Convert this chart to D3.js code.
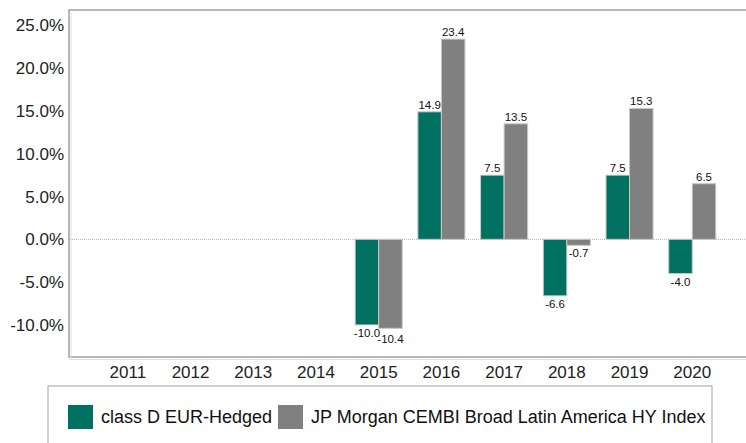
<!DOCTYPE html>
<html>
<head>
<meta charset="utf-8">
<script src="https://cdn.jsdelivr.net/npm/d3@7"></script>
<style>
  html, body { margin: 0; padding: 0; background: #fff; }
  svg { display: block; font-family: "Liberation Sans", Arial, sans-serif; }
</style>
</head>
<body>
<svg id="chart" width="746" height="443"></svg>
<script>
const years = ["2011","2012","2013","2014","2015","2016","2017","2018","2019","2020"];
const fundValues = [null, null, null, null, -10.0, 14.9, 7.5, -6.6, 7.5, -4.0];
const indexValues = [null, null, null, null, -10.4, 23.4, 13.5, -0.7, 15.3, 6.5];
const seriesNames = ["class D EUR-Hedged", "JP Morgan CEMBI Broad Latin America HY Index"];
const seriesColors = ["#007060", "#808080"];
const yTicks = [-10, -5, 0, 5, 10, 15, 20, 25];

const svg = d3.select("#chart");
const plot = { left: 69, top: 10, right: 746, bottom: 357 };

const y = d3.scaleLinear().domain([-13.75, 26.8]).range([plot.bottom, plot.top]);
const x0 = d3.scaleBand().domain(years).range([96.5, 723.6]).paddingInner(0.25).paddingOuter(0.125);
const x1 = d3.scaleBand().domain([0, 1]).range([0, x0.bandwidth()]);

// frame
svg.append("path")
  .attr("d", `M${plot.right},${plot.top}H${plot.left}V${plot.bottom}H${plot.right}`)
  .attr("fill", "none").attr("stroke", "#a0a0a0").attr("stroke-width", 1.5);
svg.append("path")
  .attr("d", `M${plot.left + 2},${plot.top + 2}V${plot.bottom + 2.5}M${plot.left},${plot.bottom + 2.5}H${plot.right}`)
  .attr("fill", "none").attr("stroke", "#e0e0e0").attr("stroke-width", 1);

// zero line
svg.append("line")
  .attr("x1", plot.left + 1).attr("x2", plot.right)
  .attr("y1", y(0)).attr("y2", y(0))
  .attr("stroke", "#b0b0b0").attr("stroke-width", 1).attr("stroke-dasharray", "1,1");

// y axis
const yAxis = d3.axisLeft(y).tickValues(yTicks).tickSize(0).tickPadding(0)
  .tickFormat(d => d.toFixed(1) + "%");
const gy = svg.append("g").attr("transform", `translate(64,0)`).call(yAxis);
gy.select(".domain").remove();
gy.selectAll("text").attr("font-size", 17).attr("fill", "#222")
  .attr("font-family", "Liberation Sans, Arial, sans-serif");

// x axis
const xAxis = d3.axisBottom(x0).tickSize(0).tickPadding(0);
const gx = svg.append("g").attr("transform", `translate(0,366)`).call(xAxis);
gx.select(".domain").remove();
gx.selectAll("text").attr("font-size", 17).attr("fill", "#222").attr("dy", "0.71em")
  .attr("font-family", "Liberation Sans, Arial, sans-serif");

// bars
const data = [];
years.forEach((yr, i) => {
  [fundValues[i], indexValues[i]].forEach((v, s) => {
    if (v !== null) data.push({ yr, s, v });
  });
});

svg.append("g").selectAll("rect").data(data).join("rect")
  .attr("x", d => x0(d.yr) + x1(d.s))
  .attr("width", x1.bandwidth())
  .attr("y", d => y(Math.max(0, d.v)))
  .attr("height", d => Math.abs(y(d.v) - y(0)))
  .attr("fill", d => seriesColors[d.s])
  .attr("stroke", "#c8c8c8").attr("stroke-width", 1);

svg.append("g").selectAll("text").data(data).join("text")
  .attr("x", d => x0(d.yr) + x1(d.s) + x1.bandwidth() / 2)
  .attr("y", d => d.v >= 0 ? y(d.v) - 3 : y(d.v) + 12 + (d.yr === "2015" && d.s === 1 ? 3 : 0))
  .attr("text-anchor", "middle")
  .attr("font-size", 11.5).attr("fill", "#111")
  .text(d => d.v.toFixed(1));

// legend
svg.append("rect").attr("x", 48).attr("y", 386).attr("width", 664).attr("height", 80)
  .attr("fill", "#fff").attr("stroke", "#a0a0a0").attr("stroke-width", 1);
const legendX = [68, 278];
const lg = svg.append("g").selectAll("g").data(seriesNames).join("g")
  .attr("transform", (d, i) => `translate(${legendX[i]},405)`);
lg.append("rect").attr("width", 25).attr("height", 24).attr("fill", (d, i) => seriesColors[i]);
lg.append("text").attr("x", 33).attr("y", 12).attr("dy", "0.35em")
  .attr("font-size", 18).attr("fill", "#111").text(d => d);
</script>
</body>
</html>
